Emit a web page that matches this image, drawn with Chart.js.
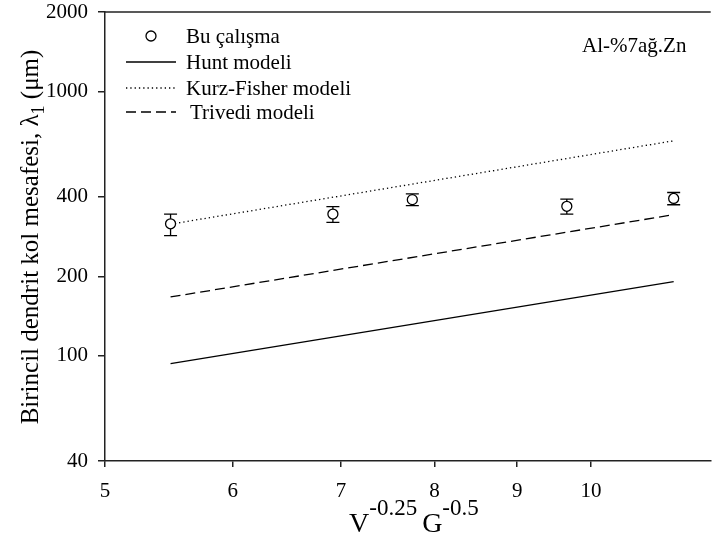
<!DOCTYPE html>
<html>
<head>
<meta charset="utf-8">
<script src="https://cdn.jsdelivr.net/npm/chart.js@4.4.0/dist/chart.umd.min.js"></script>
<style>
  html, body { margin: 0; padding: 0; background: #fff; }
</style>
</head>
<body>
<canvas id="chart" width="717" height="535"></canvas>
<script>
// values (log-log axes)
const xTicks = [5, 6, 7, 8, 9, 10];
const yTicks = [40, 100, 200, 400, 1000, 2000];

const expX = [5.49, 6.92, 7.75, 9.66, 11.25];
const expY = [316, 344, 390, 368, 394];
const expLow = [285, 320, 370, 344, 373];
const expHigh = [344, 367, 410, 392, 415];

const modelX = [5.49, 11.25];
const huntY = [93.5, 191];
const kurzY = [315, 651];
const trivediY = [167, 342];

const serif = '"Liberation Serif", "Times New Roman", serif';
const axisColor = '#222';

function pts(xs, ys) {
    return xs.map((v, i) => ({ x: v, y: ys[i] }));
}

// error bars, legend, labels and titles
const extras = {
    id: 'extras',
    beforeDatasetsDraw(chart) {
        const { ctx, scales: { x, y } } = chart;
        ctx.save();
        ctx.strokeStyle = '#000';
        ctx.lineWidth = 1.3;
        expX.forEach((v, i) => {
            const px = x.getPixelForValue(v);
            const lo = y.getPixelForValue(expLow[i]);
            const hi = y.getPixelForValue(expHigh[i]);
            ctx.beginPath();
            ctx.moveTo(px, lo); ctx.lineTo(px, hi);
            ctx.moveTo(px - 6.5, lo); ctx.lineTo(px + 6.5, lo);
            ctx.moveTo(px - 6.5, hi); ctx.lineTo(px + 6.5, hi);
            ctx.stroke();
        });
        ctx.restore();
    },
    afterDraw(chart) {
        const { ctx, chartArea: a } = chart;
        ctx.save();

        // top frame line
        ctx.strokeStyle = axisColor;
        ctx.lineWidth = 1.5;
        ctx.beginPath();
        ctx.moveTo(a.left, a.top);
        ctx.lineTo(a.right, a.top);
        ctx.stroke();

        // legend
        ctx.fillStyle = '#000';
        ctx.strokeStyle = '#000';
        ctx.font = '21px ' + serif;
        ctx.textBaseline = 'middle';
        ctx.textAlign = 'left';

        ctx.lineWidth = 1.3;
        ctx.beginPath();
        ctx.arc(151, 36, 5, 0, Math.PI * 2);
        ctx.stroke();
        ctx.fillText('Bu çalışma', 186, 37);

        const rows = [
            { label: 'Hunt modeli', y: 62, dash: [], tx: 186 },
            { label: 'Kurz-Fisher modeli', y: 88, dash: [1.3, 3], tx: 186 },
            { label: 'Trivedi modeli', y: 112, dash: [10, 5], tx: 190 }
        ];
        rows.forEach(r => {
            ctx.setLineDash(r.dash);
            ctx.beginPath();
            ctx.moveTo(126, r.y);
            ctx.lineTo(176, r.y);
            ctx.stroke();
            ctx.fillText(r.label, r.tx, r.y + 1);
        });
        ctx.setLineDash([]);

        ctx.fillText('Al-%7ağ.Zn', 582, 46);

        // x title: V^-0.25 G^-0.5
        ctx.textBaseline = 'alphabetic';
        let cx = 349;
        const base = 532;
        const parts = [
            ['V', 28, 0], ['-0.25', 23, -17], [' ', 20, 0], ['G', 28, 0], ['-0.5', 23, -17]
        ];
        parts.forEach(([t, size, dy]) => {
            ctx.font = size + 'px ' + serif;
            ctx.fillText(t, cx, base + dy);
            cx += ctx.measureText(t).width;
        });

        // y title with subscript
        ctx.translate(38, 237);
        ctx.rotate(-Math.PI / 2);
        const yParts = [
            ['Birincil dendrit kol mesafesi, λ', 25, 0],
            ['1', 18, 6],
            [' (μm)', 25, 0]
        ];
        let total = 0;
        yParts.forEach(([t, size]) => {
            ctx.font = size + 'px ' + serif;
            total += ctx.measureText(t).width;
        });
        let tx = -total / 2;
        yParts.forEach(([t, size, dy]) => {
            ctx.font = size + 'px ' + serif;
            ctx.fillText(t, tx, dy);
            tx += ctx.measureText(t).width;
        });

        ctx.restore();
    }
};

new Chart(document.getElementById('chart'), {
    type: 'scatter',
    data: {
        datasets: [
            {
                label: 'Bu çalışma',
                data: pts(expX, expY),
                pointStyle: 'circle',
                pointRadius: 5,
                pointBorderWidth: 1.3,
                pointBorderColor: '#000',
                pointBackgroundColor: '#fff',
                showLine: false,
                order: 0
            },
            {
                label: 'Hunt modeli',
                data: pts(modelX, huntY),
                showLine: true,
                borderColor: '#000',
                borderWidth: 1.3,
                pointRadius: 0,
                order: 1
            },
            {
                label: 'Kurz-Fisher modeli',
                data: pts(modelX, kurzY),
                showLine: true,
                borderColor: '#000',
                borderWidth: 1.3,
                borderDash: [1.3, 3],
                pointRadius: 0,
                order: 1
            },
            {
                label: 'Trivedi modeli',
                data: pts(modelX, trivediY),
                showLine: true,
                borderColor: '#000',
                borderWidth: 1.3,
                borderDash: [10, 5],
                pointRadius: 0,
                order: 1
            }
        ]
    },
    options: {
        responsive: false,
        animation: false,
        devicePixelRatio: 1,
        layout: { padding: { top: 12, right: 0, left: 0, bottom: 0 } },
        plugins: {
            legend: { display: false },
            tooltip: { enabled: false }
        },
        scales: {
            x: {
                type: 'logarithmic',
                min: 5,
                max: 11.86,
                afterBuildTicks: s => { s.ticks = xTicks.map(v => ({ value: v })); },
                afterFit: s => { s.height = 74; s.paddingRight = 0; },
                ticks: {
                    autoSkip: false,
                    maxRotation: 0,
                    padding: 12,
                    color: '#000',
                    font: { family: serif, size: 21 },
                    callback: v => String(v)
                },
                grid: { drawOnChartArea: false, tickLength: 6, color: axisColor, lineWidth: 1.5 },
                border: { color: axisColor, width: 1.5 }
            },
            y: {
                type: 'logarithmic',
                min: 40,
                max: 2000,
                afterBuildTicks: s => { s.ticks = yTicks.map(v => ({ value: v })); },
                afterFit: s => { s.width = 105; s.paddingTop = 0; s.paddingBottom = 0; },
                ticks: {
                    autoSkip: false,
                    padding: 10,
                    color: '#000',
                    font: { family: serif, size: 21 },
                    callback: v => String(v)
                },
                grid: { drawOnChartArea: false, tickLength: 7, color: axisColor, lineWidth: 1.5 },
                border: { color: axisColor, width: 1.5 }
            }
        }
    },
    plugins: [extras]
});
</script>
</body>
</html>
